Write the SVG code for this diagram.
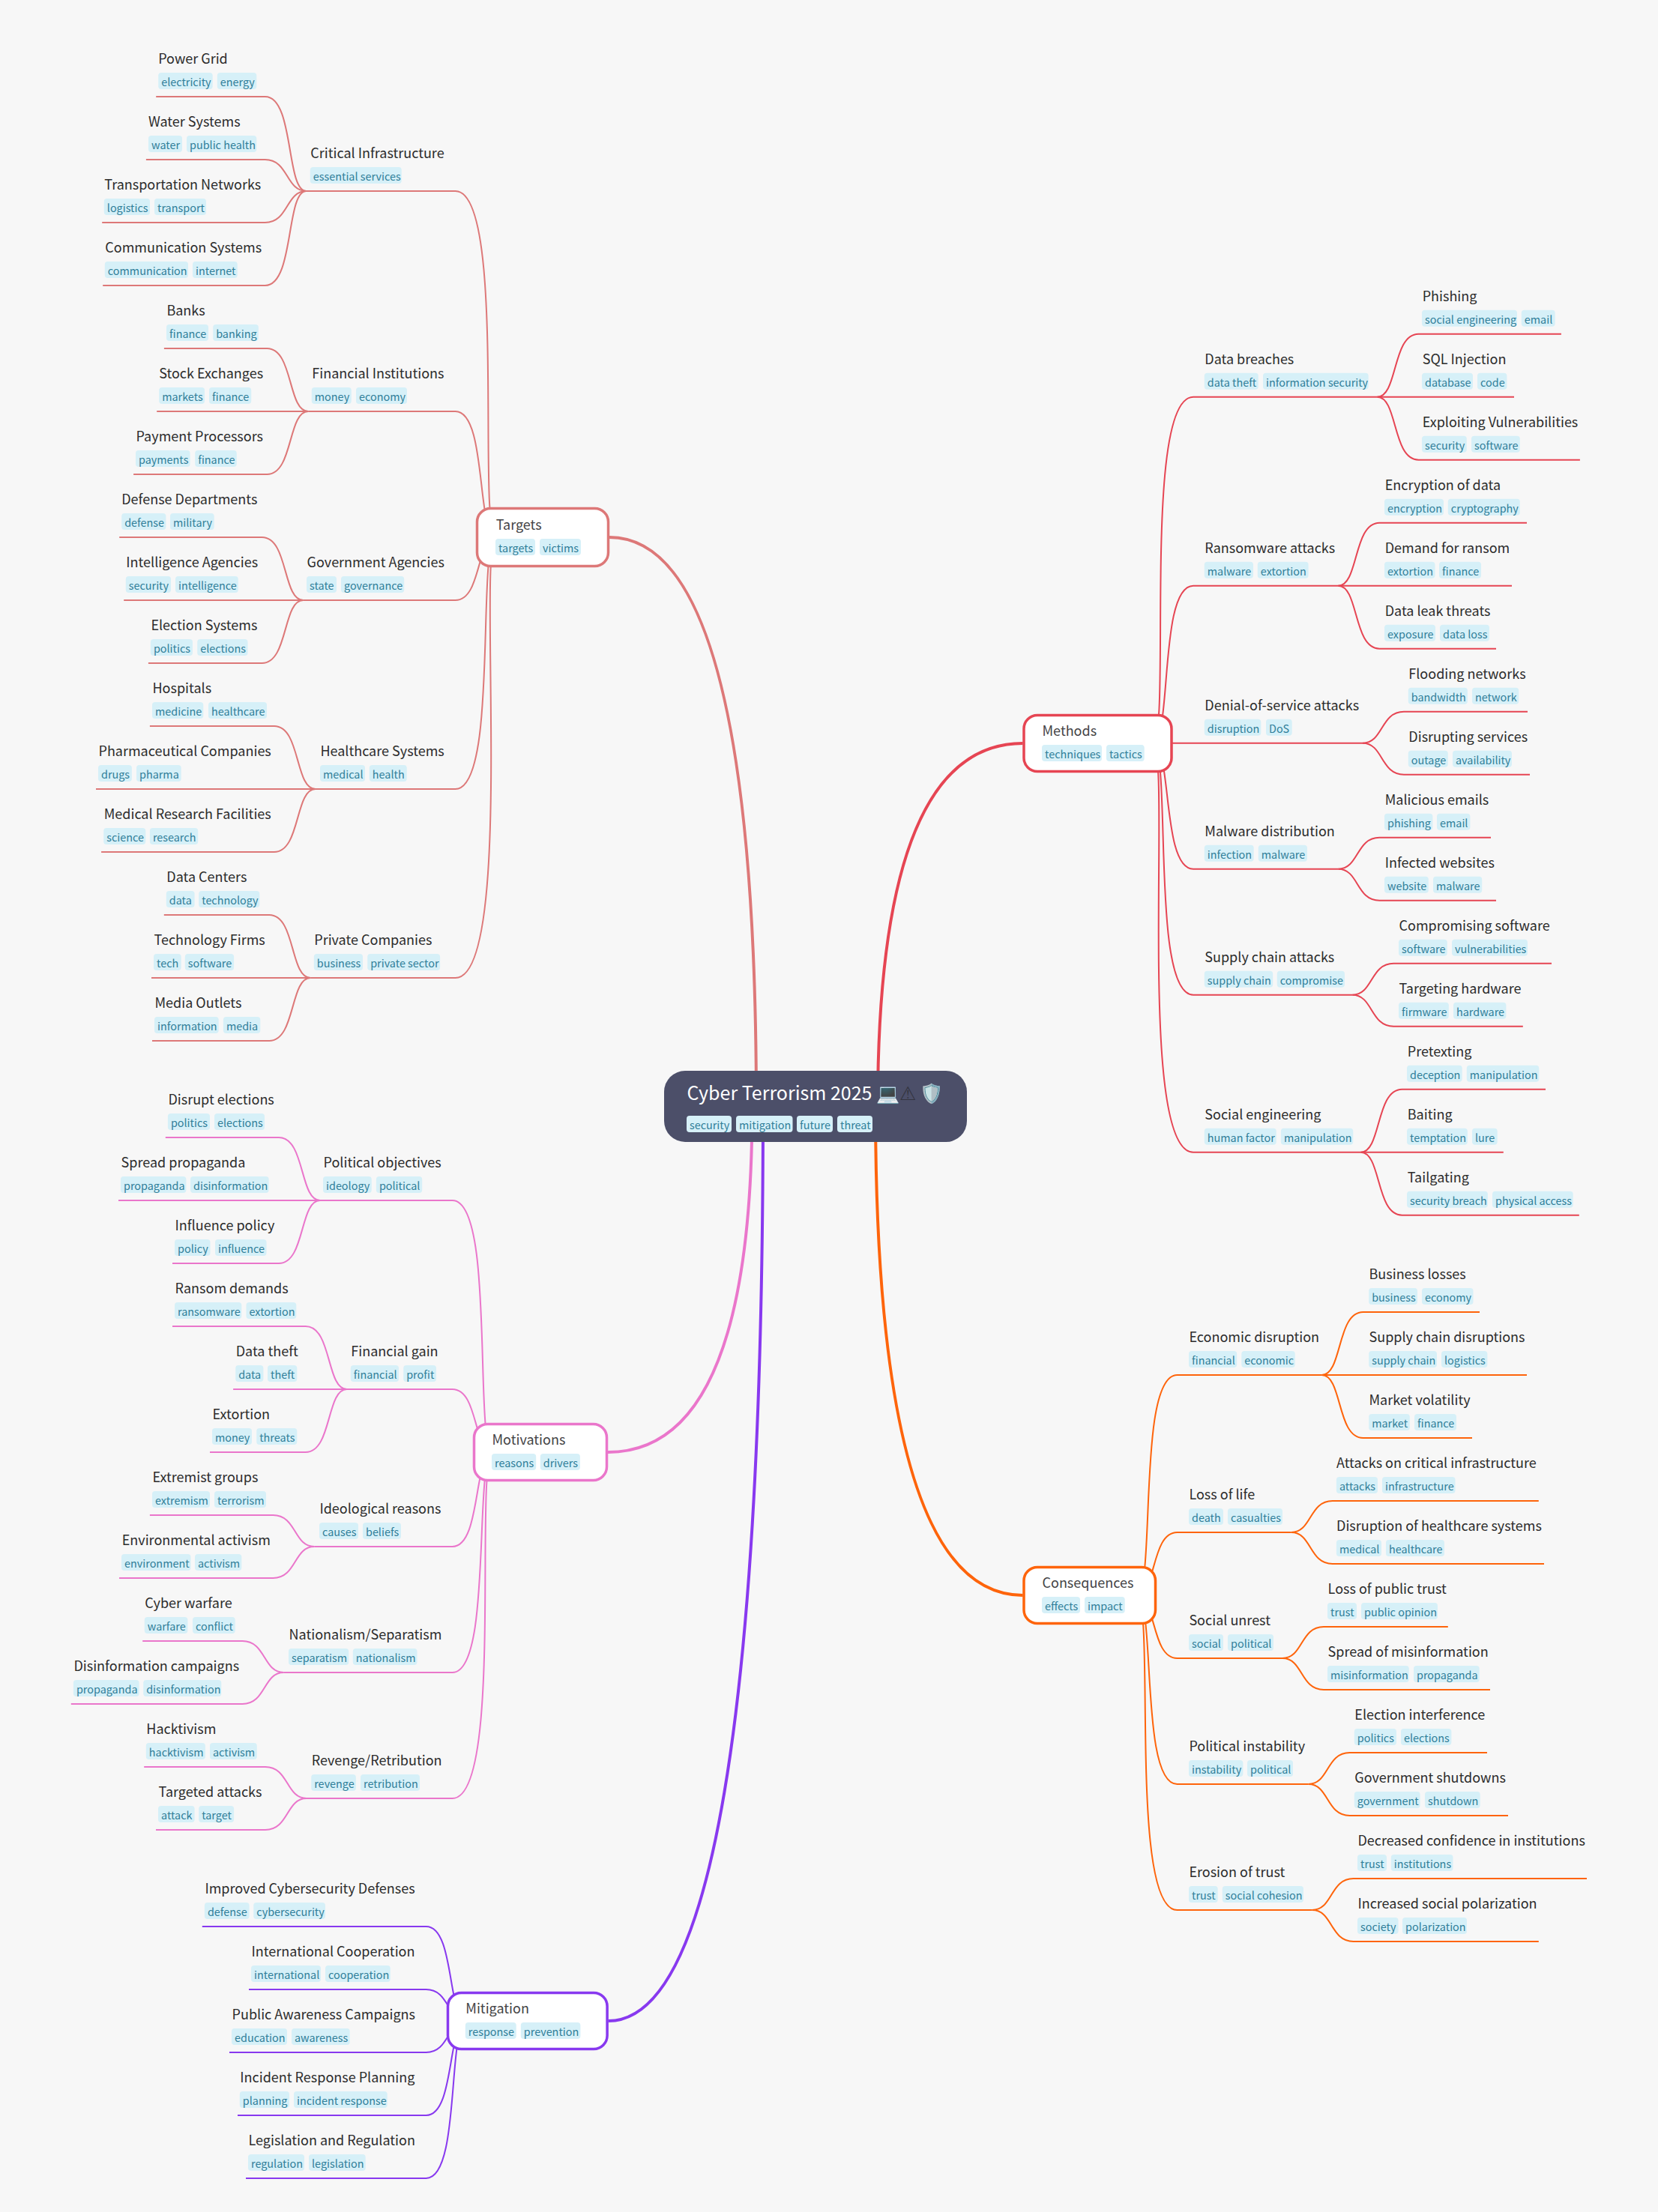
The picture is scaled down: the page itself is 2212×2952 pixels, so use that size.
<svg xmlns="http://www.w3.org/2000/svg" width="2212" height="2952" viewBox="0 0 2212 2952">
<style>
text{font-family:"Noto Sans CJK SC","Noto Sans",sans-serif}
.t{font-size:18px;fill:#2c2c2c}
.m{font-size:18px;fill:#444446}
.r{font-size:25px;fill:#fff}
.warn{font-size:25px;fill:#33343f;font-family:"DejaVu Sans",sans-serif}
.tt{font-size:14.4px;fill:#2f7e99}
rect.tg{y:-32px;height:22px;rx:4px;fill:#d6f0f8}
.box{fill:#fff;stroke-width:3.5}
.c path{fill:none;stroke-width:2}
.c path.main{stroke-width:4}
.tg-c path{stroke:#dd7878}.mo-c path{stroke:#ea76cb}.mi-c path{stroke:#8839ef}.me-c path{stroke:#e64553}.co-c path{stroke:#fe640b}
</style>
<rect width="2212" height="2952" fill="#f7f7f7"/>
<g id="connectors" class="c">
<g class="tg-c">
<path class="main" d="M1009 1476Q1009 717 813 717"/>
<path d="M662.5 717C635 717 677.35 255 607.5 255H408.7"/>
<path d="M662.5 717C635 717 650.4 549 607.5 549H411.2"/>
<path d="M662.5 717C635 717 642.7 801 607.5 801H404.5"/>
<path d="M662.5 717C635 717 665.8 1053 607.5 1053H420.8"/>
<path d="M662.5 717C635 717 688.9 1305 607.5 1305H414.2"/>
<path d="M408.7 255C381.2 255 392.75 129 353.7 129H208.2"/>
<path d="M408.7 255C381.2 255 385.05 213 353.7 213H194.9"/>
<path d="M408.7 255C381.2 255 385.05 297 353.7 297H136.2"/>
<path d="M408.7 255C381.2 255 392.75 381 353.7 381H137.2"/>
<path d="M411.2 549C383.7 549 391.4 465 356.2 465H218.9"/>
<path d="M411.2 549H209.2"/>
<path d="M411.2 549C383.7 549 391.4 633 356.2 633H178.1"/>
<path d="M404.5 801C377 801 384.7 717 349.5 717H159.2"/>
<path d="M404.5 801H165.2"/>
<path d="M404.5 801C377 801 384.7 885 349.5 885H197.9"/>
<path d="M420.8 1053C393.3 1053 401 969 365.8 969H199.9"/>
<path d="M420.8 1053H128"/>
<path d="M420.8 1053C393.3 1053 401 1137 365.8 1137H135.1"/>
<path d="M414.2 1305C386.7 1305 394.4 1221 359.2 1221H218.8"/>
<path d="M414.2 1305H202"/>
<path d="M414.2 1305C386.7 1305 394.4 1389 359.2 1389H203"/>
</g>
<g class="mo-c">
<path class="main" d="M1003.5 1476Q1003.5 1938 811 1938"/>
<path d="M658.5 1938C631 1938 661.8 1602 603.5 1602H427"/>
<path d="M658.5 1938C631 1938 638.7 1854 603.5 1854H462.7"/>
<path d="M658.5 1938C631 1938 642.55 2064 603.5 2064H419.3"/>
<path d="M658.5 1938C631 1938 657.95 2232 603.5 2232H378.5"/>
<path d="M658.5 1938C631 1938 673.35 2400 603.5 2400H409"/>
<path d="M427 1602C399.5 1602 407.2 1518 372 1518H220.8"/>
<path d="M427 1602H158"/>
<path d="M427 1602C399.5 1602 407.2 1686 372 1686H230"/>
<path d="M462.7 1854C435.2 1854 442.9 1770 407.7 1770H230"/>
<path d="M462.7 1854H311.1"/>
<path d="M462.7 1854C435.2 1854 442.9 1938 407.7 1938H280"/>
<path d="M419.3 2064C391.8 2064 395.65 2022 364.3 2022H199.9"/>
<path d="M419.3 2064C391.8 2064 395.65 2106 364.3 2106H159"/>
<path d="M378.5 2232C351 2232 354.85 2190 323.5 2190H190.2"/>
<path d="M378.5 2232C351 2232 354.85 2274 323.5 2274H94.8"/>
<path d="M409 2400C381.5 2400 385.35 2358 354 2358H192.2"/>
<path d="M409 2400C381.5 2400 385.35 2442 354 2442H208"/>
</g>
<g class="mi-c">
<path class="main" d="M1018 1476Q1018 2697 811.6 2697"/>
<path d="M623.5 2697C596 2697 607.55 2571 568.5 2571H269.8"/>
<path d="M623.5 2697C596 2697 599.85 2655 568.5 2655H332"/>
<path d="M623.5 2697C596 2697 599.85 2739 568.5 2739H306"/>
<path d="M623.5 2697C596 2697 607.55 2823 568.5 2823H317"/>
<path d="M623.5 2697C596 2697 615.25 2907 568.5 2907H328"/>
</g>
<g class="me-c">
<path class="main" d="M1171 1476Q1171 992 1364.5 992"/>
<path d="M1537 991.7C1564.5 991.7 1522.15 529.7 1592 529.7H1837.5"/>
<path d="M1537 991.7C1564.5 991.7 1545.25 781.7 1592 781.7H1785.4"/>
<path d="M1537 991.7H1818"/>
<path d="M1537 991.7C1564.5 991.7 1549.1 1159.7 1592 1159.7H1785.4"/>
<path d="M1537 991.7C1564.5 991.7 1533.7 1327.7 1592 1327.7H1804.3"/>
<path d="M1537 991.7C1564.5 991.7 1514.45 1537.7 1592 1537.7H1815.5"/>
<path d="M1837.5 529.7C1865 529.7 1857.3 445.7 1892.5 445.7H2082.9"/>
<path d="M1837.5 529.7H2020"/>
<path d="M1837.5 529.7C1865 529.7 1857.3 613.7 1892.5 613.7H2107.9"/>
<path d="M1785.4 781.7C1812.9 781.7 1805.2 697.7 1840.4 697.7H2037"/>
<path d="M1785.4 781.7H2017"/>
<path d="M1785.4 781.7C1812.9 781.7 1805.2 865.7 1840.4 865.7H1996"/>
<path d="M1818 991.7C1845.5 991.7 1841.65 949.7 1873 949.7H2038"/>
<path d="M1818 991.7C1845.5 991.7 1841.65 1033.7 1873 1033.7H2041"/>
<path d="M1785.4 1159.7C1812.9 1159.7 1809.05 1117.7 1840.4 1117.7H1989"/>
<path d="M1785.4 1159.7C1812.9 1159.7 1809.05 1201.7 1840.4 1201.7H1996"/>
<path d="M1804.3 1327.7C1831.8 1327.7 1827.95 1285.7 1859.3 1285.7H2070"/>
<path d="M1804.3 1327.7C1831.8 1327.7 1827.95 1369.7 1859.3 1369.7H2031.8"/>
<path d="M1815.5 1537.7C1843 1537.7 1835.3 1453.7 1870.5 1453.7H2062"/>
<path d="M1815.5 1537.7H2005.8"/>
<path d="M1815.5 1537.7C1843 1537.7 1835.3 1621.7 1870.5 1621.7H2106.8"/>
</g>
<g class="co-c">
<path class="main" d="M1168 1476Q1168 2129 1364.5 2129"/>
<path d="M1515.5 2129C1543 2129 1516.05 1835 1570.5 1835H1763.5"/>
<path d="M1515.5 2129C1543 2129 1535.3 2045 1570.5 2045H1722.7"/>
<path d="M1515.5 2129C1543 2129 1535.3 2213 1570.5 2213H1711"/>
<path d="M1515.5 2129C1543 2129 1519.9 2381 1570.5 2381H1745.6"/>
<path d="M1515.5 2129C1543 2129 1504.5 2549 1570.5 2549H1750.7"/>
<path d="M1763.5 1835C1791 1835 1783.3 1751 1818.5 1751H1974"/>
<path d="M1763.5 1835H2037"/>
<path d="M1763.5 1835C1791 1835 1783.3 1919 1818.5 1919H1964"/>
<path d="M1722.7 2045C1750.2 2045 1746.35 2003 1777.7 2003H2052.8"/>
<path d="M1722.7 2045C1750.2 2045 1746.35 2087 1777.7 2087H2060"/>
<path d="M1711 2213C1738.5 2213 1734.65 2171 1766 2171H1931.8"/>
<path d="M1711 2213C1738.5 2213 1734.65 2255 1766 2255H1988"/>
<path d="M1745.6 2381C1773.1 2381 1769.25 2339 1800.6 2339H1984"/>
<path d="M1745.6 2381C1773.1 2381 1769.25 2423 1800.6 2423H2012"/>
<path d="M1750.7 2549C1778.2 2549 1774.35 2507 1805.7 2507H2117"/>
<path d="M1750.7 2549C1778.2 2549 1774.35 2591 1805.7 2591H2052.8"/>
</g>
</g>

<g id="root">
<rect x="886" y="1429" width="404" height="95" rx="28" fill="#4c4f69"/>
<text class="r" x="916.5" y="1468">Cyber Terrorism 2025 <tspan x="1168.5">💻</tspan><tspan class="warn" x="1200" dy="0">⚠&#xFE0E;</tspan><tspan x="1226.5">🛡️</tspan></text>
<g transform="translate(0,1521)">
<rect class="tg" x="916" width="60" /><text class="tt" x="920" y="-14">security</text>
<rect class="tg" x="982" width="75.5"/><text class="tt" x="986" y="-14">mitigation</text>
<rect class="tg" x="1063" width="48"/><text class="tt" x="1067" y="-14">future</text>
<rect class="tg" x="1117" width="47"/><text class="tt" x="1121" y="-14">threat</text>
</g>
</g>

<g id="targets"><rect class="box" x="636.5" y="678.5" width="175" height="77" rx="18" stroke="#dd7878"/>
<g transform="translate(0,751)"><text class="m" x="661.7" y="-43.7">Targets</text>
<rect class="tg" x="661" width="53"/><text class="tt" x="665" y="-14">targets</text>
<rect class="tg" x="720" width="55"/><text class="tt" x="724" y="-14">victims</text></g></g>

<g id="critical-infrastructure" transform="translate(0,255)"><text class="t" x="414.3" y="-43.7">Critical Infrastructure</text>
<rect class="tg" x="413.8" width="122"/><text class="tt" x="417.8" y="-14">essential services</text></g>
<g id="power-grid" transform="translate(0,129)"><text class="t" x="211.2" y="-43.7">Power Grid</text>
<rect class="tg" x="211.2" width="72.5"/><text class="tt" x="215.2" y="-14">electricity</text>
<rect class="tg" x="289.8" width="52.5"/><text class="tt" x="293.8" y="-14">energy</text></g>
<g id="water-systems" transform="translate(0,213)"><text class="t" x="198" y="-43.7">Water Systems</text>
<rect class="tg" x="198" width="45"/><text class="tt" x="202" y="-14">water</text>
<rect class="tg" x="249" width="93.3"/><text class="tt" x="253" y="-14">public health</text></g>
<g id="transportation-networks" transform="translate(0,297)"><text class="t" x="139.3" y="-43.7">Transportation Networks</text>
<rect class="tg" x="138.8" width="61.2"/><text class="tt" x="142.8" y="-14">logistics</text>
<rect class="tg" x="206" width="69"/><text class="tt" x="210" y="-14">transport</text></g>
<g id="communication-systems" transform="translate(0,381)"><text class="t" x="140.3" y="-43.7">Communication Systems</text>
<rect class="tg" x="139.8" width="111.2"/><text class="tt" x="143.8" y="-14">communication</text>
<rect class="tg" x="257" width="59.8"/><text class="tt" x="261" y="-14">internet</text></g>

<g id="financial-institutions" transform="translate(0,549)"><text class="t" x="416.3" y="-43.7">Financial Institutions</text>
<rect class="tg" x="415.8" width="53"/><text class="tt" x="419.8" y="-14">money</text>
<rect class="tg" x="475" width="68"/><text class="tt" x="479" y="-14">economy</text></g>
<g id="banks" transform="translate(0,465)"><text class="t" x="222.4" y="-43.7">Banks</text>
<rect class="tg" x="222" width="56"/><text class="tt" x="226" y="-14">finance</text>
<rect class="tg" x="284.2" width="60.7"/><text class="tt" x="288.2" y="-14">banking</text></g>
<g id="stock-exchanges" transform="translate(0,549)"><text class="t" x="212.2" y="-43.7">Stock Exchanges</text>
<rect class="tg" x="212.2" width="60.8"/><text class="tt" x="216.2" y="-14">markets</text>
<rect class="tg" x="279" width="56.2"/><text class="tt" x="283" y="-14">finance</text></g>
<g id="payment-processors" transform="translate(0,633)"><text class="t" x="181.6" y="-43.7">Payment Processors</text>
<rect class="tg" x="181" width="72.6"/><text class="tt" x="185" y="-14">payments</text>
<rect class="tg" x="260.2" width="55.6"/><text class="tt" x="264.2" y="-14">finance</text></g>

<g id="government-agencies" transform="translate(0,801)"><text class="t" x="409.6" y="-43.7">Government Agencies</text>
<rect class="tg" x="409" width="40"/><text class="tt" x="413" y="-14">state</text>
<rect class="tg" x="455" width="84.2"/><text class="tt" x="459" y="-14">governance</text></g>
<g id="defense-departments" transform="translate(0,717)"><text class="t" x="162.2" y="-43.7">Defense Departments</text>
<rect class="tg" x="162.2" width="59.2"/><text class="tt" x="166.2" y="-14">defense</text>
<rect class="tg" x="227" width="58.7"/><text class="tt" x="231" y="-14">military</text></g>
<g id="intelligence-agencies" transform="translate(0,801)"><text class="t" x="168.3" y="-43.7">Intelligence Agencies</text>
<rect class="tg" x="167.8" width="60.2"/><text class="tt" x="171.8" y="-14">security</text>
<rect class="tg" x="234" width="83.8"/><text class="tt" x="238" y="-14">intelligence</text></g>
<g id="election-systems" transform="translate(0,885)"><text class="t" x="201.4" y="-43.7">Election Systems</text>
<rect class="tg" x="200.9" width="56.1"/><text class="tt" x="204.9" y="-14">politics</text>
<rect class="tg" x="263.2" width="67.3"/><text class="tt" x="267.2" y="-14">elections</text></g>

<g id="healthcare-systems" transform="translate(0,1053)"><text class="t" x="427.4" y="-43.7">Healthcare Systems</text>
<rect class="tg" x="427" width="60"/><text class="tt" x="431" y="-14">medical</text>
<rect class="tg" x="492.8" width="50"/><text class="tt" x="496.8" y="-14">health</text></g>
<g id="hospitals" transform="translate(0,969)"><text class="t" x="203.5" y="-43.7">Hospitals</text>
<rect class="tg" x="203" width="68.3"/><text class="tt" x="207" y="-14">medicine</text>
<rect class="tg" x="278" width="78"/><text class="tt" x="282" y="-14">healthcare</text></g>
<g id="pharmaceutical-companies" transform="translate(0,1053)"><text class="t" x="131.5" y="-43.7">Pharmaceutical Companies</text>
<rect class="tg" x="131" width="44.9"/><text class="tt" x="135" y="-14">drugs</text>
<rect class="tg" x="182" width="59.7"/><text class="tt" x="186" y="-14">pharma</text></g>
<g id="medical-research-facilities" transform="translate(0,1137)"><text class="t" x="138.7" y="-43.7">Medical Research Facilities</text>
<rect class="tg" x="138.2" width="56.1"/><text class="tt" x="142.2" y="-14">science</text>
<rect class="tg" x="199.9" width="64.3"/><text class="tt" x="203.9" y="-14">research</text></g>

<g id="private-companies" transform="translate(0,1305)"><text class="t" x="419.3" y="-43.7">Private Companies</text>
<rect class="tg" x="418.8" width="65.2"/><text class="tt" x="422.8" y="-14">business</text>
<rect class="tg" x="490.2" width="96.9"/><text class="tt" x="494.2" y="-14">private sector</text></g>
<g id="data-centers" transform="translate(0,1221)"><text class="t" x="222.3" y="-43.7">Data Centers</text>
<rect class="tg" x="221.8" width="37.8"/><text class="tt" x="225.8" y="-14">data</text>
<rect class="tg" x="265.2" width="81.1"/><text class="tt" x="269.2" y="-14">technology</text></g>
<g id="technology-firms" transform="translate(0,1305)"><text class="t" x="205.5" y="-43.7">Technology Firms</text>
<rect class="tg" x="205" width="36.7"/><text class="tt" x="209" y="-14">tech</text>
<rect class="tg" x="246.8" width="65.3"/><text class="tt" x="250.8" y="-14">software</text></g>
<g id="media-outlets" transform="translate(0,1389)"><text class="t" x="206.5" y="-43.7">Media Outlets</text>
<rect class="tg" x="206" width="85.7"/><text class="tt" x="210" y="-14">information</text>
<rect class="tg" x="297.9" width="49.4"/><text class="tt" x="301.9" y="-14">media</text></g>

<g id="motivations"><rect class="box" x="632.5" y="1900.5" width="177" height="75" rx="18" stroke="#ea76cb"/>
<g transform="translate(0,1972)"><text class="m" x="656.5" y="-43.7">Motivations</text>
<rect class="tg" x="656" width="59.2"/><text class="tt" x="660" y="-14">reasons</text>
<rect class="tg" x="720.8" width="53.1"/><text class="tt" x="724.8" y="-14">drivers</text></g></g>

<g id="political-objectives" transform="translate(0,1602)"><text class="t" x="431.5" y="-43.7">Political objectives</text>
<rect class="tg" x="431" width="64.8"/><text class="tt" x="435" y="-14">ideology</text>
<rect class="tg" x="501.9" width="61.3"/><text class="tt" x="505.9" y="-14">political</text></g>
<g id="disrupt-elections" transform="translate(0,1518)"><text class="t" x="224.4" y="-43.7">Disrupt elections</text>
<rect class="tg" x="223.9" width="56.1"/><text class="tt" x="227.9" y="-14">politics</text>
<rect class="tg" x="286" width="67"/><text class="tt" x="290" y="-14">elections</text></g>
<g id="spread-propaganda" transform="translate(0,1602)"><text class="t" x="161.6" y="-43.7">Spread propaganda</text>
<rect class="tg" x="161" width="87.4"/><text class="tt" x="165" y="-14">propaganda</text>
<rect class="tg" x="254" width="104.6"/><text class="tt" x="258" y="-14">disinformation</text></g>
<g id="influence-policy" transform="translate(0,1686)"><text class="t" x="233.6" y="-43.7">Influence policy</text>
<rect class="tg" x="233" width="47.5"/><text class="tt" x="237" y="-14">policy</text>
<rect class="tg" x="287" width="68.5"/><text class="tt" x="291" y="-14">influence</text></g>

<g id="financial-gain" transform="translate(0,1854)"><text class="t" x="468.3" y="-43.7">Financial gain</text>
<rect class="tg" x="467.8" width="64.2"/><text class="tt" x="471.8" y="-14">financial</text>
<rect class="tg" x="538.2" width="43.8"/><text class="tt" x="542.2" y="-14">profit</text></g>
<g id="ransom-demands" transform="translate(0,1770)"><text class="t" x="233.6" y="-43.7">Ransom demands</text>
<rect class="tg" x="233" width="89.3"/><text class="tt" x="237" y="-14">ransomware</text>
<rect class="tg" x="328.5" width="66.8"/><text class="tt" x="332.5" y="-14">extortion</text></g>
<g id="data-theft" transform="translate(0,1854)"><text class="t" x="314.7" y="-43.7">Data theft</text>
<rect class="tg" x="314.2" width="37.2"/><text class="tt" x="318.2" y="-14">data</text>
<rect class="tg" x="357" width="39.3"/><text class="tt" x="361" y="-14">theft</text></g>
<g id="extortion" transform="translate(0,1938)"><text class="t" x="283.6" y="-43.7">Extortion</text>
<rect class="tg" x="283" width="53"/><text class="tt" x="287" y="-14">money</text>
<rect class="tg" x="342.2" width="54.1"/><text class="tt" x="346.2" y="-14">threats</text></g>

<g id="ideological-reasons" transform="translate(0,2064)"><text class="t" x="426.4" y="-43.7">Ideological reasons</text>
<rect class="tg" x="426" width="52"/><text class="tt" x="430" y="-14">causes</text>
<rect class="tg" x="484" width="51"/><text class="tt" x="488" y="-14">beliefs</text></g>
<g id="extremist-groups" transform="translate(0,2022)"><text class="t" x="203.5" y="-43.7">Extremist groups</text>
<rect class="tg" x="203" width="77"/><text class="tt" x="207" y="-14">extremism</text>
<rect class="tg" x="286" width="69"/><text class="tt" x="290" y="-14">terrorism</text></g>
<g id="environmental-activism" transform="translate(0,2106)"><text class="t" x="162.7" y="-43.7">Environmental activism</text>
<rect class="tg" x="162" width="92.5"/><text class="tt" x="166" y="-14">environment</text>
<rect class="tg" x="260" width="62.3"/><text class="tt" x="264" y="-14">activism</text></g>

<g id="nationalism-separatism" transform="translate(0,2232)"><text class="t" x="385.6" y="-43.7">Nationalism/Separatism</text>
<rect class="tg" x="385" width="80.2"/><text class="tt" x="389" y="-14">separatism</text>
<rect class="tg" x="470.8" width="85.7"/><text class="tt" x="474.8" y="-14">nationalism</text></g>
<g id="cyber-warfare" transform="translate(0,2190)"><text class="t" x="193.3" y="-43.7">Cyber warfare</text>
<rect class="tg" x="192.8" width="57.6"/><text class="tt" x="196.8" y="-14">warfare</text>
<rect class="tg" x="257" width="56.7"/><text class="tt" x="261" y="-14">conflict</text></g>
<g id="disinformation-campaigns" transform="translate(0,2274)"><text class="t" x="98.4" y="-43.7">Disinformation campaigns</text>
<rect class="tg" x="97.9" width="87.7"/><text class="tt" x="101.9" y="-14">propaganda</text>
<rect class="tg" x="191.2" width="104.1"/><text class="tt" x="195.2" y="-14">disinformation</text></g>

<g id="revenge-retribution" transform="translate(0,2400)"><text class="t" x="415.7" y="-43.7">Revenge/Retribution</text>
<rect class="tg" x="415.2" width="59.7"/><text class="tt" x="419.2" y="-14">revenge</text>
<rect class="tg" x="481" width="79"/><text class="tt" x="485" y="-14">retribution</text></g>
<g id="hacktivism" transform="translate(0,2358)"><text class="t" x="195.3" y="-43.7">Hacktivism</text>
<rect class="tg" x="194.8" width="79.1"/><text class="tt" x="198.8" y="-14">hacktivism</text>
<rect class="tg" x="280" width="62.8"/><text class="tt" x="284" y="-14">activism</text></g>
<g id="targeted-attacks" transform="translate(0,2442)"><text class="t" x="211.6" y="-43.7">Targeted attacks</text>
<rect class="tg" x="211" width="48.6"/><text class="tt" x="215" y="-14">attack</text>
<rect class="tg" x="265.2" width="46.9"/><text class="tt" x="269.2" y="-14">target</text></g>

<g id="mitigation"><rect class="box" x="597.5" y="2659.5" width="212.6" height="75" rx="18" stroke="#8839ef"/>
<g transform="translate(0,2731)"><text class="m" x="621.3" y="-43.7">Mitigation</text>
<rect class="tg" x="620.8" width="67.9"/><text class="tt" x="624.8" y="-14">response</text>
<rect class="tg" x="694.8" width="79.6"/><text class="tt" x="698.8" y="-14">prevention</text></g></g>

<g id="improved-cybersecurity-defenses" transform="translate(0,2571)"><text class="t" x="273.4" y="-43.7">Improved Cybersecurity Defenses</text>
<rect class="tg" x="272.9" width="59.7"/><text class="tt" x="276.9" y="-14">defense</text>
<rect class="tg" x="338.2" width="95.8"/><text class="tt" x="342.2" y="-14">cybersecurity</text></g>
<g id="international-cooperation" transform="translate(0,2655)"><text class="t" x="335.6" y="-43.7">International Cooperation</text>
<rect class="tg" x="335" width="93"/><text class="tt" x="339" y="-14">international</text>
<rect class="tg" x="434" width="86.8"/><text class="tt" x="438" y="-14">cooperation</text></g>
<g id="public-awareness-campaigns" transform="translate(0,2739)"><text class="t" x="309.6" y="-43.7">Public Awareness Campaigns</text>
<rect class="tg" x="309" width="74"/><text class="tt" x="313" y="-14">education</text>
<rect class="tg" x="389" width="77.7"/><text class="tt" x="393" y="-14">awareness</text></g>
<g id="incident-response-planning" transform="translate(0,2823)"><text class="t" x="320.3" y="-43.7">Incident Response Planning</text>
<rect class="tg" x="319.8" width="66.2"/><text class="tt" x="323.8" y="-14">planning</text>
<rect class="tg" x="392" width="124.7"/><text class="tt" x="396" y="-14">incident response</text></g>
<g id="legislation-and-regulation" transform="translate(0,2907)"><text class="t" x="331.5" y="-43.7">Legislation and Regulation</text>
<rect class="tg" x="331" width="75"/><text class="tt" x="335" y="-14">regulation</text>
<rect class="tg" x="412" width="75.7"/><text class="tt" x="416" y="-14">legislation</text></g>

<g id="methods"><rect class="box" x="1366" y="954.5" width="197" height="75" rx="18" stroke="#e64553"/>
<g transform="translate(0,1026)"><text class="m" x="1390.5" y="-43.7">Methods</text>
<rect class="tg" x="1390" width="80"/><text class="tt" x="1394" y="-14">techniques</text>
<rect class="tg" x="1476" width="50.7"/><text class="tt" x="1480" y="-14">tactics</text></g></g>

<g id="data-breaches" transform="translate(0,529.7)"><text class="t" x="1607.3" y="-43.7">Data breaches</text>
<rect class="tg" x="1606.8" width="72"/><text class="tt" x="1610.8" y="-14">data theft</text>
<rect class="tg" x="1685" width="140.7"/><text class="tt" x="1689" y="-14">information security</text></g>
<g id="phishing" transform="translate(0,445.7)"><text class="t" x="1897.7" y="-43.7">Phishing</text>
<rect class="tg" x="1897" width="127"/><text class="tt" x="1901" y="-14">social engineering</text>
<rect class="tg" x="2029.8" width="44.9"/><text class="tt" x="2033.8" y="-14">email</text></g>
<g id="sql-injection" transform="translate(0,529.7)"><text class="t" x="1897.7" y="-43.7">SQL Injection</text>
<rect class="tg" x="1897" width="68"/><text class="tt" x="1901" y="-14">database</text>
<rect class="tg" x="1971" width="39.4"/><text class="tt" x="1975" y="-14">code</text></g>
<g id="exploiting-vulnerabilities" transform="translate(0,613.7)"><text class="t" x="1897.7" y="-43.7">Exploiting Vulnerabilities</text>
<rect class="tg" x="1897" width="59.8"/><text class="tt" x="1901" y="-14">security</text>
<rect class="tg" x="1963" width="64.8"/><text class="tt" x="1967" y="-14">software</text></g>

<g id="ransomware-attacks" transform="translate(0,781.7)"><text class="t" x="1607.3" y="-43.7">Ransomware attacks</text>
<rect class="tg" x="1606.8" width="65.2"/><text class="tt" x="1610.8" y="-14">malware</text>
<rect class="tg" x="1677.8" width="67.8"/><text class="tt" x="1681.8" y="-14">extortion</text></g>
<g id="encryption-of-data" transform="translate(0,697.7)"><text class="t" x="1847.7" y="-43.7">Encryption of data</text>
<rect class="tg" x="1847" width="79"/><text class="tt" x="1851" y="-14">encryption</text>
<rect class="tg" x="1931.8" width="96"/><text class="tt" x="1935.8" y="-14">cryptography</text></g>
<g id="demand-for-ransom" transform="translate(0,781.7)"><text class="t" x="1847.7" y="-43.7">Demand for ransom</text>
<rect class="tg" x="1847" width="67.5"/><text class="tt" x="1851" y="-14">extortion</text>
<rect class="tg" x="1920" width="56"/><text class="tt" x="1924" y="-14">finance</text></g>
<g id="data-leak-threats" transform="translate(0,865.7)"><text class="t" x="1847.7" y="-43.7">Data leak threats</text>
<rect class="tg" x="1847" width="68"/><text class="tt" x="1851" y="-14">exposure</text>
<rect class="tg" x="1921" width="66"/><text class="tt" x="1925" y="-14">data loss</text></g>

<g id="denial-of-service-attacks" transform="translate(0,991.7)"><text class="t" x="1607.3" y="-43.7">Denial-of-service attacks</text>
<rect class="tg" x="1606.8" width="75.5"/><text class="tt" x="1610.8" y="-14">disruption</text>
<rect class="tg" x="1689" width="34.7"/><text class="tt" x="1693" y="-14">DoS</text></g>
<g id="flooding-networks" transform="translate(0,949.7)"><text class="t" x="1879.3" y="-43.7">Flooding networks</text>
<rect class="tg" x="1878.8" width="79.1"/><text class="tt" x="1882.8" y="-14">bandwidth</text>
<rect class="tg" x="1964" width="62.2"/><text class="tt" x="1968" y="-14">network</text></g>
<g id="disrupting-services" transform="translate(0,1033.7)"><text class="t" x="1879.3" y="-43.7">Disrupting services</text>
<rect class="tg" x="1878.8" width="53"/><text class="tt" x="1882.8" y="-14">outage</text>
<rect class="tg" x="1938" width="79"/><text class="tt" x="1942" y="-14">availability</text></g>

<g id="malware-distribution" transform="translate(0,1159.7)"><text class="t" x="1607.3" y="-43.7">Malware distribution</text>
<rect class="tg" x="1606.8" width="65.9"/><text class="tt" x="1610.8" y="-14">infection</text>
<rect class="tg" x="1678.8" width="65.2"/><text class="tt" x="1682.8" y="-14">malware</text></g>
<g id="malicious-emails" transform="translate(0,1117.7)"><text class="t" x="1847.7" y="-43.7">Malicious emails</text>
<rect class="tg" x="1847" width="64.4"/><text class="tt" x="1851" y="-14">phishing</text>
<rect class="tg" x="1917" width="44.4"/><text class="tt" x="1921" y="-14">email</text></g>
<g id="infected-websites" transform="translate(0,1201.7)"><text class="t" x="1847.7" y="-43.7">Infected websites</text>
<rect class="tg" x="1847" width="58.8"/><text class="tt" x="1851" y="-14">website</text>
<rect class="tg" x="1912" width="65.2"/><text class="tt" x="1916" y="-14">malware</text></g>

<g id="supply-chain-attacks" transform="translate(0,1327.7)"><text class="t" x="1607.3" y="-43.7">Supply chain attacks</text>
<rect class="tg" x="1606.8" width="91.4"/><text class="tt" x="1610.8" y="-14">supply chain</text>
<rect class="tg" x="1703.8" width="90.2"/><text class="tt" x="1707.8" y="-14">compromise</text></g>
<g id="compromising-software" transform="translate(0,1285.7)"><text class="t" x="1866.5" y="-43.7">Compromising software</text>
<rect class="tg" x="1866" width="64.8"/><text class="tt" x="1870" y="-14">software</text>
<rect class="tg" x="1937" width="101"/><text class="tt" x="1941" y="-14">vulnerabilities</text></g>
<g id="targeting-hardware" transform="translate(0,1369.7)"><text class="t" x="1866.5" y="-43.7">Targeting hardware</text>
<rect class="tg" x="1866" width="66.9"/><text class="tt" x="1870" y="-14">firmware</text>
<rect class="tg" x="1939" width="70.4"/><text class="tt" x="1943" y="-14">hardware</text></g>

<g id="social-engineering" transform="translate(0,1537.7)"><text class="t" x="1607.3" y="-43.7">Social engineering</text>
<rect class="tg" x="1606.8" width="96"/><text class="tt" x="1610.8" y="-14">human factor</text>
<rect class="tg" x="1708.9" width="96.4"/><text class="tt" x="1712.9" y="-14">manipulation</text></g>
<g id="pretexting" transform="translate(0,1453.7)"><text class="t" x="1877.8" y="-43.7">Pretexting</text>
<rect class="tg" x="1877" width="73.7"/><text class="tt" x="1881" y="-14">deception</text>
<rect class="tg" x="1956.8" width="96.5"/><text class="tt" x="1960.8" y="-14">manipulation</text></g>
<g id="baiting" transform="translate(0,1537.7)"><text class="t" x="1877.8" y="-43.7">Baiting</text>
<rect class="tg" x="1877" width="80.9"/><text class="tt" x="1881" y="-14">temptation</text>
<rect class="tg" x="1964" width="33.7"/><text class="tt" x="1968" y="-14">lure</text></g>
<g id="tailgating" transform="translate(0,1621.7)"><text class="t" x="1877.8" y="-43.7">Tailgating</text>
<rect class="tg" x="1877" width="107.9"/><text class="tt" x="1881" y="-14">security breach</text>
<rect class="tg" x="1991" width="107.7"/><text class="tt" x="1995" y="-14">physical access</text></g>

<g id="consequences"><rect class="box" x="1366" y="2091.5" width="175.5" height="75" rx="18" stroke="#fe640b"/>
<g transform="translate(0,2163)"><text class="m" x="1390.5" y="-43.7">Consequences</text>
<rect class="tg" x="1390" width="51"/><text class="tt" x="1394" y="-14">effects</text>
<rect class="tg" x="1447" width="53.7"/><text class="tt" x="1451" y="-14">impact</text></g></g>

<g id="economic-disruption" transform="translate(0,1835)"><text class="t" x="1586.4" y="-43.7">Economic disruption</text>
<rect class="tg" x="1586" width="64.2"/><text class="tt" x="1590" y="-14">financial</text>
<rect class="tg" x="1656.3" width="71.5"/><text class="tt" x="1660.3" y="-14">economic</text></g>
<g id="business-losses" transform="translate(0,1751)"><text class="t" x="1826.5" y="-43.7">Business losses</text>
<rect class="tg" x="1826.2" width="64.8"/><text class="tt" x="1830.2" y="-14">business</text>
<rect class="tg" x="1897" width="68.5"/><text class="tt" x="1901" y="-14">economy</text></g>
<g id="supply-chain-disruptions" transform="translate(0,1835)"><text class="t" x="1826.5" y="-43.7">Supply chain disruptions</text>
<rect class="tg" x="1826.2" width="90.8"/><text class="tt" x="1830.2" y="-14">supply chain</text>
<rect class="tg" x="1923" width="61.4"/><text class="tt" x="1927" y="-14">logistics</text></g>
<g id="market-volatility" transform="translate(0,1919)"><text class="t" x="1826.5" y="-43.7">Market volatility</text>
<rect class="tg" x="1826.2" width="54.6"/><text class="tt" x="1830.2" y="-14">market</text>
<rect class="tg" x="1887" width="56"/><text class="tt" x="1891" y="-14">finance</text></g>

<g id="loss-of-life" transform="translate(0,2045)"><text class="t" x="1586.4" y="-43.7">Loss of life</text>
<rect class="tg" x="1586" width="46"/><text class="tt" x="1590" y="-14">death</text>
<rect class="tg" x="1638" width="73"/><text class="tt" x="1642" y="-14">casualties</text></g>
<g id="attacks-on-critical-infrastructure" transform="translate(0,2003)"><text class="t" x="1783" y="-43.7">Attacks on critical infrastructure</text>
<rect class="tg" x="1782.9" width="55.1"/><text class="tt" x="1786.9" y="-14">attacks</text>
<rect class="tg" x="1844" width="97.5"/><text class="tt" x="1848" y="-14">infrastructure</text></g>
<g id="disruption-of-healthcare-systems" transform="translate(0,2087)"><text class="t" x="1783" y="-43.7">Disruption of healthcare systems</text>
<rect class="tg" x="1782.9" width="60.1"/><text class="tt" x="1786.9" y="-14">medical</text>
<rect class="tg" x="1849" width="78"/><text class="tt" x="1853" y="-14">healthcare</text></g>

<g id="social-unrest" transform="translate(0,2213)"><text class="t" x="1586.4" y="-43.7">Social unrest</text>
<rect class="tg" x="1586" width="46"/><text class="tt" x="1590" y="-14">social</text>
<rect class="tg" x="1638" width="61"/><text class="tt" x="1642" y="-14">political</text></g>
<g id="loss-of-public-trust" transform="translate(0,2171)"><text class="t" x="1771.6" y="-43.7">Loss of public trust</text>
<rect class="tg" x="1771" width="39"/><text class="tt" x="1775" y="-14">trust</text>
<rect class="tg" x="1816" width="102"/><text class="tt" x="1820" y="-14">public opinion</text></g>
<g id="spread-of-misinformation" transform="translate(0,2255)"><text class="t" x="1771.6" y="-43.7">Spread of misinformation</text>
<rect class="tg" x="1771" width="108.8"/><text class="tt" x="1775" y="-14">misinformation</text>
<rect class="tg" x="1886" width="87.7"/><text class="tt" x="1890" y="-14">propaganda</text></g>

<g id="political-instability" transform="translate(0,2381)"><text class="t" x="1586.4" y="-43.7">Political instability</text>
<rect class="tg" x="1586" width="72.4"/><text class="tt" x="1590" y="-14">instability</text>
<rect class="tg" x="1664" width="61"/><text class="tt" x="1668" y="-14">political</text></g>
<g id="election-interference" transform="translate(0,2339)"><text class="t" x="1807.3" y="-43.7">Election interference</text>
<rect class="tg" x="1806.8" width="56.2"/><text class="tt" x="1810.8" y="-14">politics</text>
<rect class="tg" x="1869" width="67.4"/><text class="tt" x="1873" y="-14">elections</text></g>
<g id="government-shutdowns" transform="translate(0,2423)"><text class="t" x="1807.3" y="-43.7">Government shutdowns</text>
<rect class="tg" x="1806.8" width="87.8"/><text class="tt" x="1810.8" y="-14">government</text>
<rect class="tg" x="1901" width="73.7"/><text class="tt" x="1905" y="-14">shutdown</text></g>

<g id="erosion-of-trust" transform="translate(0,2549)"><text class="t" x="1586.4" y="-43.7">Erosion of trust</text>
<rect class="tg" x="1586" width="38.7"/><text class="tt" x="1590" y="-14">trust</text>
<rect class="tg" x="1630.8" width="108.2"/><text class="tt" x="1634.8" y="-14">social cohesion</text></g>
<g id="decreased-confidence-in-institutions" transform="translate(0,2507)"><text class="t" x="1811.4" y="-43.7">Decreased confidence in institutions</text>
<rect class="tg" x="1811" width="39"/><text class="tt" x="1815" y="-14">trust</text>
<rect class="tg" x="1855.8" width="82.7"/><text class="tt" x="1859.8" y="-14">institutions</text></g>
<g id="increased-social-polarization" transform="translate(0,2591)"><text class="t" x="1811.4" y="-43.7">Increased social polarization</text>
<rect class="tg" x="1811" width="54.5"/><text class="tt" x="1815" y="-14">society</text>
<rect class="tg" x="1871" width="86"/><text class="tt" x="1875" y="-14">polarization</text></g>
</svg>
